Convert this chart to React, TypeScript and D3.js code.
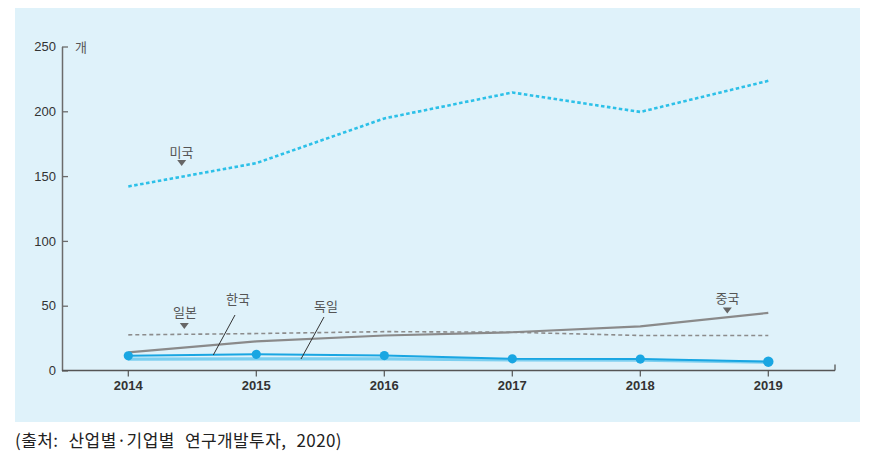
import * as d3 from 'd3';
import React, { useEffect, useRef } from 'react';

const years = [2014, 2015, 2016, 2017, 2018, 2019];
const usa = [142, 160, 194.5, 214.5, 199.5, 223.5];
const china = [14, 22.5, 27, 29.5, 34, 44.5];
const japan = [27.5, 28.5, 30, 29.5, 27, 27];
const korea = [11.3, 12.5, 11.5, 9, 8.8, 6.8];
const germany = [8.8, 9, 9, 8.2, 8, 6.3];
const yTicks = [0, 50, 100, 150, 200, 250];
const unitLabel = '개';
const source = '(출처: 산업별·기업별 연구개발투자, 2020)';

const W = 869;
const H = 455;

const App = () => {
  const svgRef = useRef<SVGSVGElement>(null);

  useEffect(() => {
    const svg = d3.select(svgRef.current);
    svg.selectAll('*').remove();

    const narrow = '"Liberation Sans Narrow", "Liberation Sans", Arial, sans-serif';
    const kr = '"Noto Sans CJK KR", "Noto Sans", sans-serif';

    // panel
    svg.append('rect')
      .attr('x', 15).attr('y', 8)
      .attr('width', 845).attr('height', 414)
      .attr('fill', '#dff2fa');

    const x = d3.scaleLinear().domain([2014, 2019]).range([128.3, 768.3]);
    const y = d3.scaleLinear().domain([0, 250]).range([370.5, 46.5]);
    const axisLeftX = 62;
    const axisRightX = 835;

    // y axis
    const ya = svg.append('g')
      .attr('transform', `translate(${axisLeftX},0)`)
      .call(d3.axisLeft(y).tickValues(yTicks).tickSize(-6).tickPadding(6).tickSizeOuter(0));
    ya.select('.domain').attr('stroke', '#6b6b6b').attr('stroke-width', 1.5);
    ya.selectAll('.tick line').attr('stroke', '#6b6b6b').attr('stroke-width', 1.3);
    ya.selectAll('.tick text')
      .attr('fill', '#333')
      .style('font-family', narrow)
      .style('font-size', '13px');

    svg.append('text')
      .attr('x', 75).attr('y', y(250) + 5)
      .attr('fill', '#555')
      .style('font-family', kr)
      .style('font-size', '13px')
      .text(unitLabel);

    // x axis
    svg.append('line')
      .attr('x1', axisLeftX).attr('x2', axisRightX)
      .attr('y1', y(0)).attr('y2', y(0))
      .attr('stroke', '#555').attr('stroke-width', 1.5);
    svg.append('line')
      .attr('x1', axisRightX).attr('x2', axisRightX)
      .attr('y1', y(0)).attr('y2', y(0) - 6)
      .attr('stroke', '#555').attr('stroke-width', 1.3);
    const xt = svg.append('g');
    xt.selectAll('line').data(years).join('line')
      .attr('x1', (d) => x(d)).attr('x2', (d) => x(d))
      .attr('y1', y(0)).attr('y2', y(0) + 6)
      .attr('stroke', '#555').attr('stroke-width', 1.2);
    xt.selectAll('text').data(years).join('text')
      .attr('x', (d) => x(d)).attr('y', 390)
      .attr('text-anchor', 'middle')
      .attr('fill', '#333')
      .style('font-family', narrow)
      .style('font-size', '13px')
      .style('font-weight', 'bold')
      .text((d) => d);

    const line = d3.line<number>()
      .x((_, i) => x(years[i]))
      .y((d) => y(d));

    // japan dashed
    svg.append('path').datum(japan)
      .attr('d', line).attr('fill', 'none')
      .attr('stroke', '#8c8c8c').attr('stroke-width', 1.6)
      .attr('stroke-dasharray', '4,3');

    // china solid gray
    svg.append('path').datum(china)
      .attr('d', line).attr('fill', 'none')
      .attr('stroke', '#8a8a8a').attr('stroke-width', 2.2);

    // usa dotted cyan
    svg.append('path').datum(usa)
      .attr('d', line).attr('fill', 'none')
      .attr('stroke', '#2cc0e8').attr('stroke-width', 2.6)
      .attr('stroke-dasharray', '3.5,2.5');

    // germany light blue
    svg.append('path').datum(germany)
      .attr('d', line).attr('fill', 'none')
      .attr('stroke', '#7ccff0').attr('stroke-width', 3.2);

    // korea blue with dots
    svg.append('path').datum(korea)
      .attr('d', line).attr('fill', 'none')
      .attr('stroke', '#19a6e2').attr('stroke-width', 2);
    svg.append('g').selectAll('circle').data(korea).join('circle')
      .attr('cx', (_, i) => x(years[i]))
      .attr('cy', (d) => y(d))
      .attr('r', (_, i) => (i === korea.length - 1 ? 5.2 : 4.6))
      .attr('fill', '#19a6e2');

    // labels
    const label = (tx: number, ty: number, t: string) =>
      svg.append('text')
        .attr('x', tx).attr('y', ty)
        .attr('text-anchor', 'middle')
        .attr('fill', '#555')
        .style('font-family', kr)
        .style('font-size', '13px')
        .text(t);
    const tri = (cx: number, cy: number) =>
      svg.append('path')
        .attr('d', `M${cx - 4.5},${cy - 3}L${cx + 4.5},${cy - 3}L${cx},${cy + 3}Z`)
        .attr('fill', '#666');
    const leader = (x1: number, y1: number, x2: number, y2: number) =>
      svg.append('line')
        .attr('x1', x1).attr('y1', y1).attr('x2', x2).attr('y2', y2)
        .attr('stroke', '#333').attr('stroke-width', 1);

    label(181.5, 157, '미국');
    tri(181.7, 163);
    label(185, 317, '일본');
    tri(184.3, 326);
    label(238, 304, '한국');
    leader(235, 315, 213.3, 355);
    label(326, 311, '독일');
    leader(324, 317, 301, 359);
    label(727.5, 303, '중국');
    tri(727.3, 310.5);

    // source
    svg.append('text')
      .attr('x', 15).attr('y', 447)
      .attr('fill', '#222')
      .style('font-family', kr)
      .style('font-size', '17px')
      .style('letter-spacing', '0.4px')
      .style('word-spacing', '6px')
      .text(source);
  }, []);

  return (
    <svg
      ref={svgRef}
      width={W}
      height={H}
      style={{ position: 'absolute', left: 0, top: 0, background: '#fff' }}
    />
  );
};

export default App;
